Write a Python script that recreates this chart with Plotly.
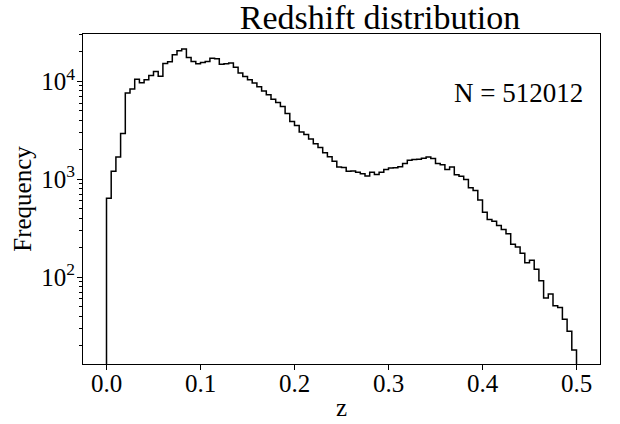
import numpy as np
import plotly.graph_objects as go

# ---- data ----
bin_lo = 0.0
bin_hi = 0.5
n_bins = 100
counts = [
    640, 1210, 1690, 2940, 7600, 8350, 10500, 9670, 10400, 11500,
    12600, 11300, 15200, 15900, 18700, 20560, 21400, 17500, 16000, 15170,
    15630, 16000, 17180, 17060, 14930, 15170, 15420, 13900, 12180, 11240,
    10400, 9600, 8800, 7950, 7300, 6550, 6100, 5550, 4700, 3900,
    3550, 3030, 2860, 2570, 2300, 2110, 1870, 1700, 1530, 1330,
    1320, 1207, 1215, 1178, 1140, 1080, 1178, 1117, 1180, 1260,
    1305, 1310, 1340, 1450, 1560, 1590, 1600, 1640, 1690, 1625,
    1445, 1403, 1256, 1337, 1109, 1074, 994, 817, 767, 615,
    460, 388, 373, 337, 307, 277, 216, 203, 175, 140,
    149, 120, 92, 61, 67, 51, 49, 37, 28, 18,
]
n_total = "512012"
x_ticks = [0.0, 0.1, 0.2, 0.3, 0.4, 0.5]
x_tick_labels = ["0.0", "0.1", "0.2", "0.3", "0.4", "0.5"]
y_ticks = [100, 1000, 10000]
y_tick_labels = ["10<sup>2</sup>", "10<sup>3</sup>", "10<sup>4</sup>"]
y_minor = [20, 30, 40, 50, 60, 70, 80, 90,
           200, 300, 400, 500, 600, 700, 800, 900,
           2000, 3000, 4000, 5000, 6000, 7000, 8000, 9000,
           20000, 30000]

# ---- build step outline ----
edges = np.linspace(bin_lo, bin_hi, n_bins + 1)
floor = 1.0
xs = [edges[0]] + list(edges[:-1]) + [edges[-1], edges[-1]]
ys = [floor] + list(counts) + [counts[-1], floor]

FONT = "Liberation Serif, Times New Roman, serif"

fig = go.Figure()
fig.add_trace(go.Scatter(
    x=xs, y=ys, mode="lines", line=dict(color="black", width=1.5, shape="hv"),
    hoverinfo="skip", showlegend=False,
))

fig.update_layout(
    width=620, height=424,
    margin=dict(l=83, r=20, t=34, b=60, autoexpand=False),
    paper_bgcolor="white", plot_bgcolor="white",
    font=dict(family=FONT, color="black", size=25),
    title=dict(text="Redshift distribution", x=0.613, xref="container", xanchor="center",
               y=1 - 5 / 424, yref="container", yanchor="top", pad=dict(t=0, b=0),
               font=dict(family=FONT, size=34, color="black")),
    annotations=[
        dict(text="N = " + n_total, xref="paper", yref="paper",
             x=0.971, y=0.82, xanchor="right", yanchor="middle",
             showarrow=False, font=dict(family=FONT, size=27, color="black")),
        dict(text="z", xref="paper", yref="paper",
             x=0.5, y=-43 / 330, xanchor="center", yanchor="middle",
             showarrow=False, font=dict(family=FONT, size=25, color="black")),
    ],
)

fig.update_xaxes(
    range=[-0.025, 0.525], tickmode="array", tickvals=x_ticks, ticktext=x_tick_labels,
    ticks="outside", ticklen=5, tickwidth=1, tickcolor="black",
    ticklabelstandoff=-8, automargin=False,
    showline=True, linecolor="black", linewidth=1, mirror=True,
    showgrid=False, zeroline=False,
    tickfont=dict(family=FONT, size=25),
)
fig.update_yaxes(
    type="log", range=[1.112, 4.484], tickmode="array", tickvals=y_ticks, ticktext=y_tick_labels,
    ticks="outside", ticklen=5, tickwidth=1, tickcolor="black",
    ticklabelstandoff=-3, automargin=False,
    minor=dict(tickmode="array", tickvals=y_minor, ticks="outside", ticklen=3,
               tickwidth=1, tickcolor="black", showgrid=False),
    showline=True, linecolor="black", linewidth=1, mirror=True,
    showgrid=False, zeroline=False,
    title=dict(text="Frequency", font=dict(family=FONT, size=25), standoff=2),
    tickfont=dict(family=FONT, size=25),
)

fig.write_html(
    "out.html",
    config={"displayModeBar": False},
    post_script="document.body.style.margin='0';document.body.style.overflow='hidden';",
)
